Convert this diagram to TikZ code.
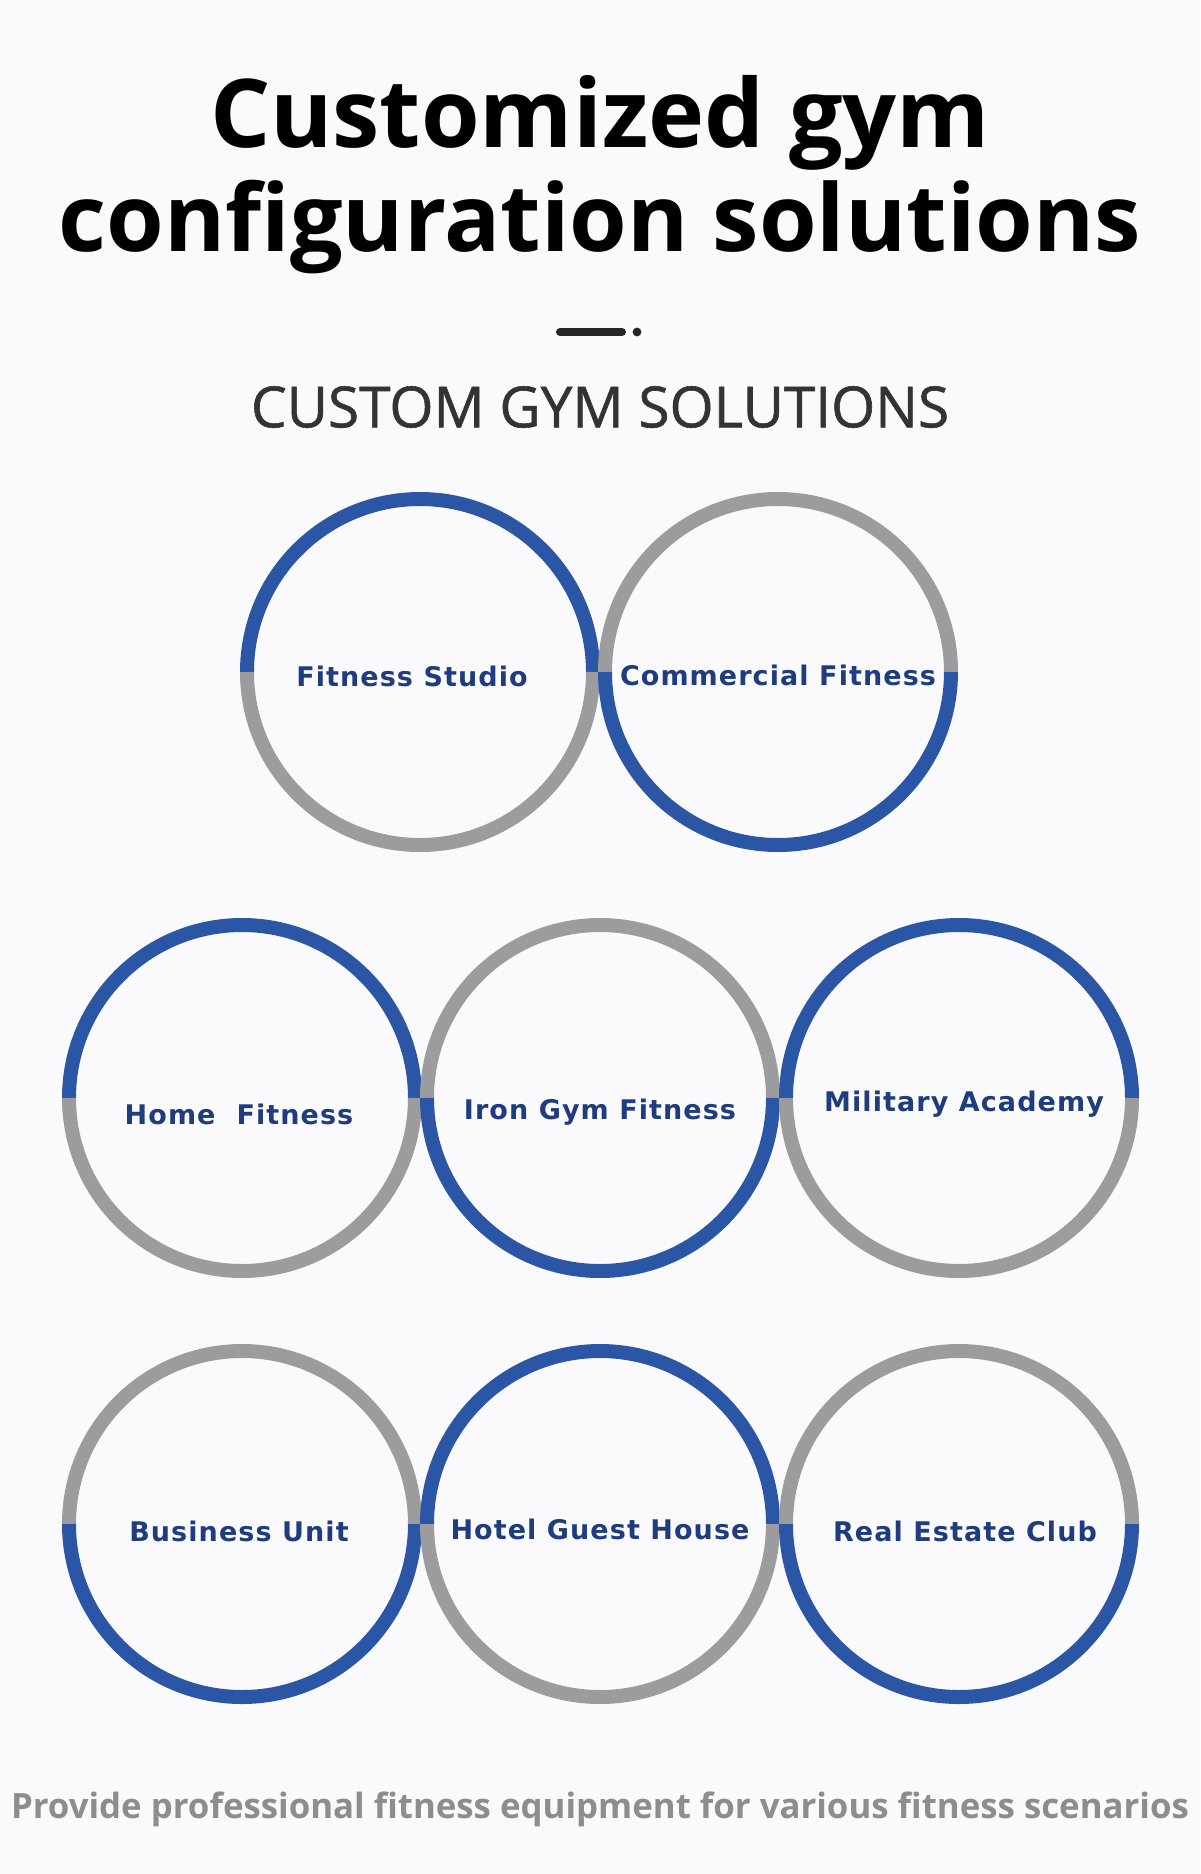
\documentclass[tikz,border=0pt]{standalone}
\usepackage{fontspec}
\usepackage{graphicx}
\setmainfont{Open Sans}
\newfontfamily\lbl{DejaVu Sans}[LetterSpace=4]
\definecolor{ringblue}{HTML}{2B56A6}
\definecolor{ringgray}{HTML}{9C9C9E}
\definecolor{navy}{HTML}{1E3C7E}
\definecolor{bg}{HTML}{FAFAFC}
\begin{document}
\begin{tikzpicture}[x=0.5pt,y=-0.5pt,
  ring/.style={line width=7pt},
  lab/.style={font=\lbl\bfseries\fontsize{13.5}{15}\selectfont,text=navy}]
\fill[bg] (0,0) rectangle (1200,1874);
\useasboundingbox (0,0) rectangle (1200,1874);
\node (t1) at (600,123) {\resizebox{390pt}{!}{\bfseries Customized gym}};
\node (t2) at (600,227) {\resizebox{541pt}{!}{\bfseries configuration solutions}};
\draw[line width=4pt,line cap=round,black!85] (560,332) -- (622,332);
\fill[black!85] (637,332) circle (2.2pt);
\node[text=black!80] (st) at (600,407) {\resizebox{349pt}{!}{\fontspec{Open Sans}[FakeBold=1]CUSTOM GYM SOLUTIONS}};
\def\R{173}
\foreach \n/\x/\y/\tc/\bc/\t/\lx/\ly in {
 a/420/672/ringblue/ringgray/{Fitness Studio}/412/676,
 b/778/672/ringgray/ringblue/{Commercial Fitness}/778/675,
 c/242/1098/ringblue/ringgray/{Home\ \ Fitness}/239/1114,
 d/600/1098/ringgray/ringblue/{Iron Gym Fitness}/600/1112,
 e/959/1098/ringblue/ringgray/{Military Academy}/964/1104,
 f/242/1524/ringgray/ringblue/{Business Unit}/239/1531,
 g/600/1524/ringblue/ringgray/{Hotel Guest House}/600/1529,
 h/959/1524/ringgray/ringblue/{Real Estate Club}/965/1531}{
  \coordinate (c\n) at (\x,\y);
  \draw[ring,\tc] ([xshift=-\R*0.5pt]c\n) arc[start angle=180,end angle=0,radius=\R*0.5pt];
  \draw[ring,\bc] ([xshift=-\R*0.5pt]c\n) arc[start angle=180,end angle=360,radius=\R*0.5pt];
  \node[lab] (l\n) at (\lx,\ly) {\t};
}
\node[text=ringgray!90!black] (ft) at (600,1809) {\resizebox{589pt}{!}{\bfseries Provide professional fitness equipment for various fitness scenarios}};
\end{tikzpicture}
\end{document}
